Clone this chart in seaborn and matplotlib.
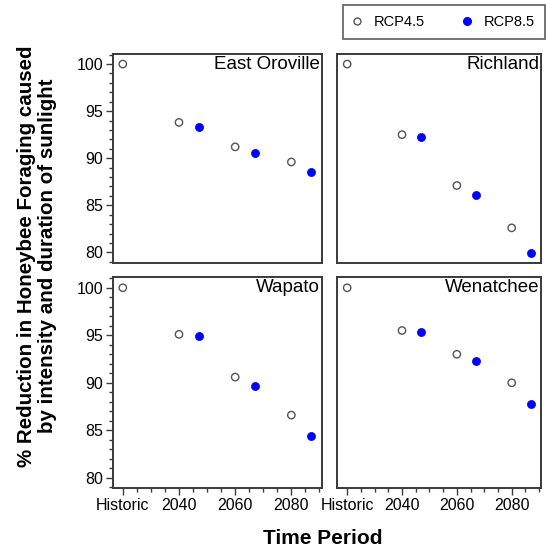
import matplotlib
matplotlib.use("Agg")
import matplotlib.pyplot as plt
from matplotlib.ticker import MultipleLocator, FixedLocator
from matplotlib.lines import Line2D
import seaborn as sns
import pandas as pd

# Sites shown, one panel each
sites = ["East Oroville", "Richland", "Wapato", "Wenatchee"]

# Time periods: historic baseline plus three future periods
period_labels = ["Historic", "2040", "2060", "2080"]
period_years = [2020, 2040, 2060, 2080]
future_years = [2040, 2060, 2080]

# Foraging relative to the historic baseline (%)
rcp45 = {
    "East Oroville": [100.0, 93.8, 91.2, 89.6],
    "Richland": [100.0, 92.5, 87.1, 82.6],
    "Wapato": [100.0, 95.1, 90.6, 86.6],
    "Wenatchee": [100.0, 95.5, 93.0, 90.0],
}
rcp85 = {
    "East Oroville": [93.3, 90.6, 88.5],
    "Richland": [92.2, 86.1, 79.9],
    "Wapato": [94.9, 89.7, 84.4],
    "Wenatchee": [95.3, 92.3, 87.8],
}

sns.set_theme(style="ticks")
plt.rcParams["font.family"] = ["Liberation Sans", "DejaVu Sans"]
plt.rcParams["text.color"] = "black"
plt.rcParams["axes.edgecolor"] = "#3a3a3a"
plt.rcParams["xtick.color"] = "#3a3a3a"
plt.rcParams["ytick.color"] = "#3a3a3a"
plt.rcParams["xtick.labelcolor"] = "black"
plt.rcParams["ytick.labelcolor"] = "black"

W, H = 546, 551
fig = plt.figure(figsize=(W / 100, H / 100), dpi=100)
fig.patch.set_facecolor("white")

def frac_box(x0, y0, x1, y1):
    return [x0 / W, 1 - y1 / H, (x1 - x0) / W, (y1 - y0) / H]

boxes = [
    frac_box(112.7, 53.7, 321.7, 262.7),
    frac_box(337.3, 53.7, 541.3, 262.7),
    frac_box(112.7, 277.3, 321.7, 488.3),
    frac_box(337.3, 277.3, 541.3, 488.3),
]

dodge = 7  # horizontal shift of the RCP8.5 points

for i, (site, box) in enumerate(zip(sites, boxes)):
    ax = fig.add_axes(box)
    ax.set_facecolor("white")
    d45 = pd.DataFrame({"year": period_years, "value": rcp45[site]})
    d85 = pd.DataFrame({"year": [y + dodge for y in future_years], "value": rcp85[site]})
    sns.scatterplot(data=d45, x="year", y="value", ax=ax, s=28,
                    facecolors="none", edgecolor="#555555", linewidth=1.0, zorder=3)
    sns.scatterplot(data=d85, x="year", y="value", ax=ax, s=34,
                    color="#0000ff", edgecolor="#0000ff", linewidth=0.5, zorder=3)
    ax.set_xlim(2016.4, 2090.8)
    ax.set_ylim(78.9, 101.1)
    ax.set_xlabel("")
    ax.set_ylabel("")
    for sp in ax.spines.values():
        sp.set_linewidth(1.4)
        sp.set_color("#3a3a3a")
    ax.text(0.99, 0.99, site, transform=ax.transAxes, ha="right", va="top",
            fontsize=13.5, color="black")

    left_col = i % 2 == 0
    bottom_row = i >= 2
    ax.yaxis.set_major_locator(FixedLocator([80, 85, 90, 95, 100]))
    ax.yaxis.set_minor_locator(MultipleLocator(1))
    ax.xaxis.set_major_locator(FixedLocator(period_years))
    ax.xaxis.set_minor_locator(MultipleLocator(5))
    ax.tick_params(axis="both", which="major", direction="out", length=5, width=1,
                   labelsize=11.5, pad=2)
    ax.tick_params(axis="both", which="minor", direction="out", length=3, width=1)
    if left_col:
        ax.set_yticklabels(["80", "85", "90", "95", "100"])
    else:
        ax.tick_params(axis="y", which="both", left=False, labelleft=False)
    if bottom_row:
        ax.set_xticklabels(period_labels)
    else:
        ax.tick_params(axis="x", which="both", bottom=False, labelbottom=False)

fig.text(37 / W, 1 - 256 / H,
         "% Reduction in Honeybee Foraging caused\nby intensity and duration of sunlight",
         rotation=90, ha="center", va="center", multialignment="center",
         fontsize=14.8, fontweight="bold", linespacing=1.15)
fig.text(323 / W, 1 - 538 / H, "Time Period", ha="center", va="center",
         fontsize=15, fontweight="bold")

handles = [
    Line2D([], [], linestyle="none", marker="o", markersize=5, markerfacecolor="none",
           markeredgecolor="#555555", markeredgewidth=1.0),
    Line2D([], [], linestyle="none", marker="o", markersize=5.5, markerfacecolor="#0000ff",
           markeredgecolor="#0000ff"),
]
leg = fig.legend(handles, ["RCP4.5", "RCP8.5"], loc="center",
                 bbox_to_anchor=(444 / W, 1 - 22 / H), ncol=2, frameon=True,
                 fancybox=False, edgecolor="#333333", fontsize=10.5,
                 handlelength=0.5, handletextpad=0.9, columnspacing=2.6,
                 borderpad=0.7, borderaxespad=0)
for t in leg.get_texts():
    t.set_color("black")
leg.get_frame().set_linewidth(1.2)

fig.savefig("out.png", dpi=100, facecolor="white")
